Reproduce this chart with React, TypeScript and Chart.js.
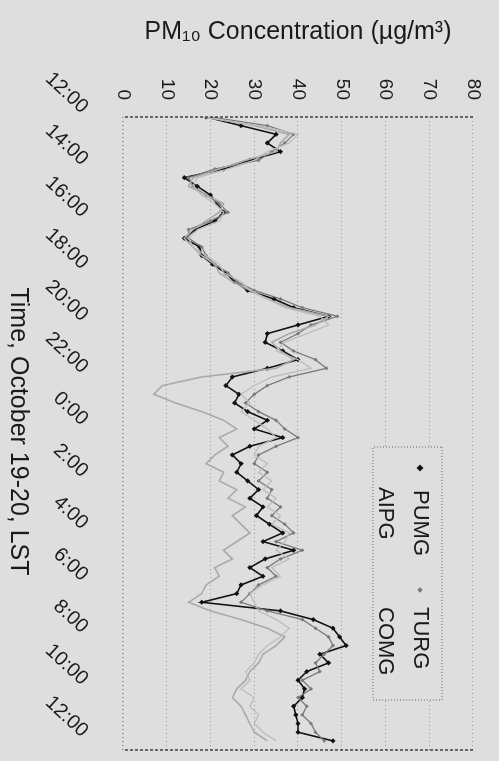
import React, { useEffect, useRef } from "react";
import { Chart, registerables } from "chart.js";

Chart.register(...registerables);

// Sampling interval of the monitor records (minutes after 12:00 on Oct 19).
const SAMPLE_MINUTES = 20;

const TIME_TICKS = [
  "12:00", "14:00", "16:00", "18:00", "20:00", "22:00", "0:00",
  "2:00", "4:00", "6:00", "8:00", "10:00", "12:00",
];
const TIME_TICK_STEP = 2; // hours between time labels
const TIME_MAX = 24.35; // hours shown on the time axis
const TIME_TITLE = "Time, October 19-20, LST";

const CONC_MIN = 0;
const CONC_MAX = 80;
const CONC_STEP = 10;

const SERIES_NAMES = ["PUMG", "TURG", "AIPG", "COMG"];

// PM10 concentrations, µg/m3, one value per 20-minute sample
const PUMG = [
  19, 27, 35, 33, 36, 29, 23, 14, 17, 20, 21.5, 23, 21,
  16.5, 14, 17.5, 18, 20.5, 23.5, 25.5, 28.5, 34.5, 39, 47, 40,
  33, 32.5, 36.5, 40, 33, 25, 23.5, 26.5, 25.5, 28.5, 33, 30,
  36.5, 29, 25, 27, 26, 28.5, 31, 29, 32, 30.5, 33.5, 36.5,
  32, 39, 32.5, 29, 32, 27, 26, 18, 36,
  43.5, 48, 49.5, 51, 45, 47, 42, 40, 41.5, 41, 39, 39.5, 40, 40, 48,
];
const TURG = [
  20, 33, 39, 37, 34, 31, 21, 15, 16, 19, 22, 24, 20,
  15, 15, 18, 19, 21, 24, 26, 30, 36, 41, 49, 43,
  40, 36, 39, 44, 46.5, 38, 33, 30, 28, 31, 35, 37,
  40, 35, 31, 30, 33, 31, 34, 33, 36, 34, 37, 39,
  35, 41, 36, 33, 35, 31, 29, 27, 33,
  41, 44, 47, 48, 46, 44, 45, 41, 43, 40, 42, 41, 43, 44, 46,
];
const AIPG = [
  19, 30, 38, 36, 35, 28, 22, 16, 15, 19, 23, 22, 19,
  16, 14, 16, 18, 21, 22, 25, 29, 33, 38, 47, 44,
  38, 34, 36, 39, 35, 18, 9, 7, 12, 18, 23, 26,
  22, 24, 21, 19, 23, 22, 26, 24, 28, 25, 27, 29,
  26, 23, 25, 21, 22, 19, 18, 15, 20,
  27, 33, 37, 35, 32, 31, 29, 28, 26, 25, 27, 28, 29, 30, 33,
];
const COMG = [
  18, 31, 40, 38, 33, 30, 24, 17, 16, 18, 21, 23, 22,
  17, 15, 16, 19, 22, 23, 27, 29, 33, 37, 45, 47,
  42, 37, 35, 40, 43, 34, 30, 27, 29, 27, 30, 33,
  35, 31, 30, 33, 31, 34, 32, 35, 33, 36, 34, 38,
  37, 35, 38, 34, 36, 32, 29, 30, 31,
  35, 38, 36, 33, 31, 30, 28, 29, 27, 30, 29, 31, 30, 32, 35,
];

const FONT = "'Liberation Sans', Arial, Helvetica, sans-serif";
const PAPER = "#dedede";
const INK = "#1a1a1a";

// The chart is laid out landscape and then turned a quarter turn clockwise.
const W = 761;
const H = 499;

const toPoints = (values: number[]) =>
  values.map((v, i) => ({ x: (i * SAMPLE_MINUTES) / 60, y: v }));

const seriesStyles = [
  { color: "#111111", width: 1.6, pointStyle: "rectRot", radius: 2.6 },
  { color: "#7a7a7a", width: 1.3, pointStyle: "rectRot", radius: 2 },
  { color: "#a9a9a9", width: 1.6, pointStyle: false, radius: 0 },
  { color: "#bcbcbc", width: 1.3, pointStyle: false, radius: 0 },
];

const framePlugin = {
  id: "frame",
  beforeDraw(chart: any) {
    const { ctx } = chart;
    ctx.save();
    ctx.fillStyle = PAPER;
    ctx.fillRect(0, 0, chart.width, chart.height);
    ctx.restore();
  },
  afterDatasetsDraw(chart: any) {
    const { ctx, chartArea: a } = chart;
    ctx.save();
    // value axis and right edge: dark dashed
    ctx.strokeStyle = INK;
    ctx.lineWidth = 1.2;
    ctx.setLineDash([3, 2]);
    ctx.beginPath();
    ctx.moveTo(a.left, a.top);
    ctx.lineTo(a.left, a.bottom);
    ctx.moveTo(a.right, a.top);
    ctx.lineTo(a.right, a.bottom);
    ctx.stroke();
    // time axis: faint dotted
    ctx.strokeStyle = "#777";
    ctx.lineWidth = 1;
    ctx.setLineDash([1, 3]);
    ctx.beginPath();
    ctx.moveTo(a.left, a.bottom);
    ctx.lineTo(a.right, a.bottom);
    ctx.stroke();
    ctx.setLineDash([]);

    // time axis title
    ctx.fillStyle = INK;
    ctx.font = `25px ${FONT}`;
    ctx.textAlign = "center";
    ctx.textBaseline = "middle";
    ctx.fillText(TIME_TITLE, (a.left + a.right) / 2 - 2, 481);

    // legend box
    const bx = 447, by = 57, bw = 253, bh = 69;
    ctx.fillStyle = PAPER;
    ctx.fillRect(bx, by, bw, bh);
    ctx.strokeStyle = "#666";
    ctx.setLineDash([1, 2]);
    ctx.strokeRect(bx, by, bw, bh);
    ctx.setLineDash([]);

    const slots = [
      { mx: 468, tx: 490, y: 79 },
      { mx: 590, tx: 607, y: 79 },
      { mx: 468, tx: 487, y: 114 },
      { mx: 590, tx: 607, y: 114 },
    ];
    ctx.font = `22px ${FONT}`;
    ctx.textBaseline = "middle";
    ctx.textAlign = "left";
    chart.data.datasets.forEach((ds: any, i: number) => {
      const s = slots[i];
      const st = seriesStyles[i];
      if (st.pointStyle) {
        ctx.fillStyle = st.color;
        ctx.beginPath();
        const r = st.radius + 0.8;
        ctx.moveTo(s.mx, s.y - r);
        ctx.lineTo(s.mx + r, s.y);
        ctx.lineTo(s.mx, s.y + r);
        ctx.lineTo(s.mx - r, s.y);
        ctx.closePath();
        ctx.fill();
      }
      ctx.fillStyle = INK;
      ctx.fillText(ds.label, s.tx, s.y);
    });
    ctx.restore();
  },
};

export default function App() {
  const ref = useRef<HTMLCanvasElement | null>(null);

  useEffect(() => {
    const canvas = ref.current;
    if (!canvas) return;
    const seriesValues = [PUMG, TURG, AIPG, COMG];

    const chart = new Chart(canvas, {
      type: "line",
      data: {
        datasets: seriesValues.map((vals, i) => ({
          label: SERIES_NAMES[i],
          data: toPoints(vals),
          borderColor: seriesStyles[i].color,
          backgroundColor: seriesStyles[i].color,
          borderWidth: seriesStyles[i].width,
          pointStyle: seriesStyles[i].pointStyle as any,
          pointRadius: seriesStyles[i].radius,
          pointBorderWidth: 0,
          tension: 0,
          fill: false,
          order: 3 - i,
        })),
      },
      options: {
        responsive: false,
        animation: false,
        events: [],
        layout: { padding: { top: 26, right: 11, left: 0, bottom: 0 } },
        plugins: {
          legend: { display: false },
          tooltip: { enabled: false },
        },
        scales: {
          x: {
            type: "linear",
            min: 0,
            max: TIME_MAX,
            afterFit: (s: any) => {
              s.height = 123;
              s.paddingLeft = 0;
              s.paddingRight = 0;
            },
            afterBuildTicks: (s: any) => {
              s.ticks = TIME_TICKS.map((_, i) => ({ value: i * TIME_TICK_STEP }));
            },
            grid: { display: false, drawTicks: false },
            border: { display: false },
            ticks: {
              minRotation: 47,
              maxRotation: 47,
              autoSkip: false,
              padding: 30,
              labelOffset: -7,
              color: INK,
              font: { family: FONT, size: 20 },
              callback: (_v: any, i: number) => TIME_TICKS[i],
            },
            title: { display: false },
          },
          y: {
            min: CONC_MIN,
            max: CONC_MAX,
            afterFit: (s: any) => {
              s.width = 117;
              s.paddingTop = 0;
              s.paddingBottom = 0;
            },
            grid: {
              color: "#9a9a9a",
              lineWidth: 1,
              drawTicks: false,
            },
            border: { display: false, dash: [1, 3] },
            ticks: {
              stepSize: CONC_STEP,
              padding: 17,
              color: INK,
              font: { family: FONT, size: 19 },
            },
            title: {
              display: true,
              text: "PM\u2081\u2080 Concentration (\u00b5g/m\u00b3)",
              color: INK,
              font: { family: FONT, size: 25, lineHeight: 1 },
              padding: { top: 20, bottom: 0 },
            },
          },
        },
      },
      plugins: [framePlugin],
    });

    return () => chart.destroy();
  }, []);

  return (
    <div
      style={{
        position: "fixed",
        left: 0,
        top: 0,
        width: W,
        height: H,
        background: PAPER,
        transformOrigin: "0 0",
        transform: `translate(${H}px, 0px) rotate(90deg)`,
      }}
    >
      <canvas ref={ref} width={W} height={H} style={{ display: "block" }} />
    </div>
  );
}
